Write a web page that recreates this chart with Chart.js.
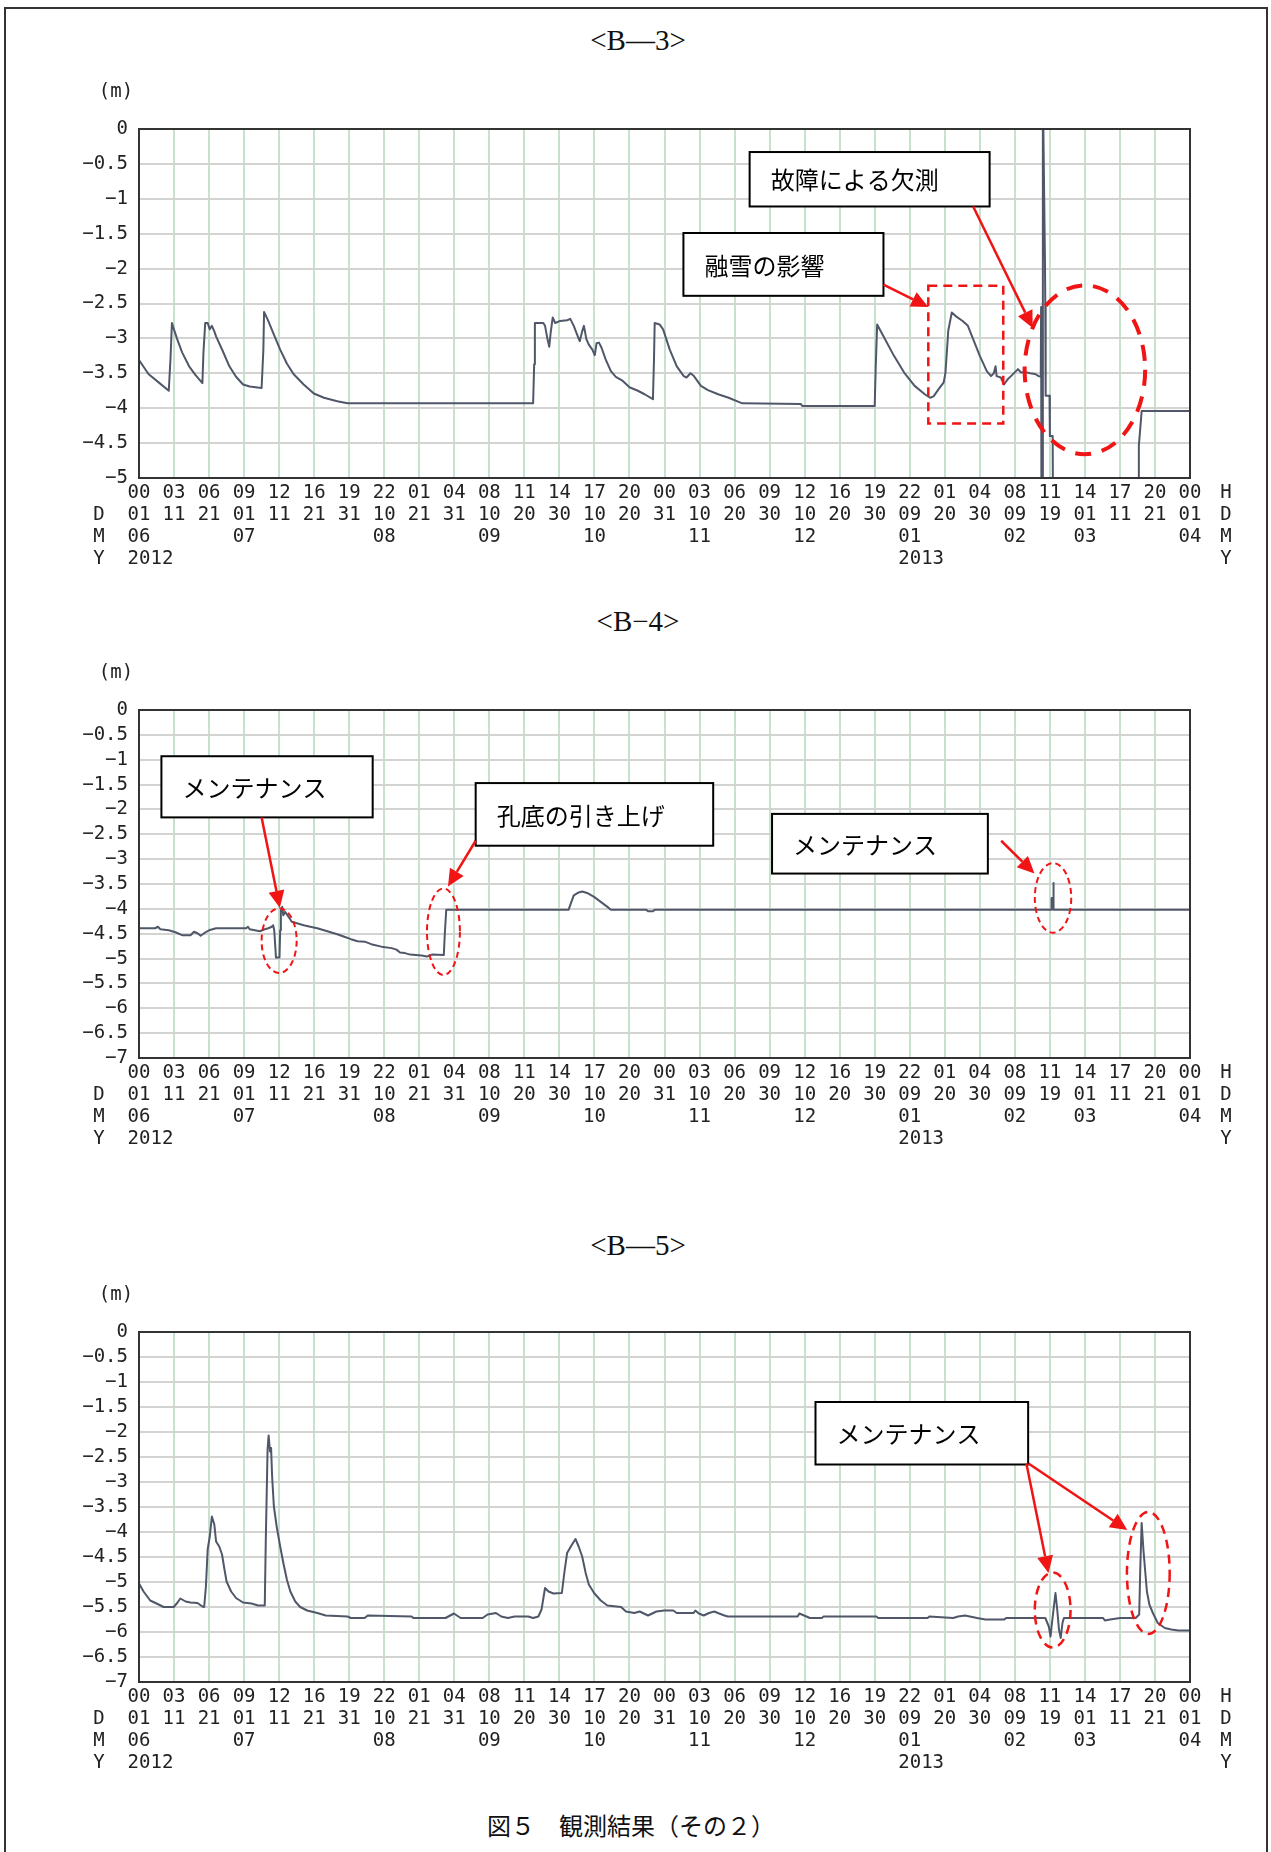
<!DOCTYPE html>
<html lang="ja">
<head>
<meta charset="utf-8">
<title>観測結果（その２）</title>
<script src="https://cdn.jsdelivr.net/npm/chart.js@4.4.0/dist/chart.umd.min.js"></script>
<style>
  body { margin: 0; background: #fff; }
  #page { position: relative; width: 1271px; height: 1852px; overflow: hidden; background: #fff; }
  #frame { position: absolute; left: 4px; top: 7px; width: 1260px; height: 1900px; border: 2px solid #333; }
  .title { position: absolute; left: 0; width: 1276px; text-align: center; line-height: 30px;
           font: 29px "Liberation Serif", "DejaVu Serif", serif; color: #111; }
  #caption { position: absolute; left: 0; width: 1262px; top: 1807px; text-align: center; line-height: 30px;
             font: 24px "Noto Sans CJK JP", sans-serif; color: #111; }
  canvas { position: absolute; left: 0; }
</style>
</head>
<body>
<div id="page">
  <div id="frame"></div>
  <div class="title" style="top:24px">&lt;B—3&gt;</div>
  <canvas id="chartB3" width="1271" height="520" style="top:60px"></canvas>
  <div class="title" style="top:605px">&lt;B−4&gt;</div>
  <canvas id="chartB4" width="1271" height="520" style="top:640px"></canvas>
  <div class="title" style="top:1229px">&lt;B—5&gt;</div>
  <canvas id="chartB5" width="1271" height="520" style="top:1262px"></canvas>
  <div id="caption">図５　観測結果（その２）</div>
</div>

<script>
// x axis tick labels (one tick per grid column, 2012/06/01 -> 2013/04/01)
const hourLabels = ['00','03','06','09','12','16','19','22','01','04','08','11','14','17','20',
                    '00','03','06','09','12','16','19','22','01','04','08','11','14','17','20','00'];
const dayLabels = ['01','11','21','01','11','21','31','10','21','31','10','20','30','10','20',
                   '31','10','20','30','10','20','30','09','20','30','09','19','01','11','21','01'];
const monthLabels = ['06','','','07','','','','08','','','09','','','10','','',
                     '11','','','12','','','01','','','02','','03','','','04'];
const yearLabels = ['2012','','','','','','','','','','','','','','','',
                    '','','','','','','2013','','','','','','','',''];
const rowNames = ['H', 'D', 'M', 'Y'];

// B-3 : time in grid columns, depth in m
const b3Time = [0,0.27,0.56,0.85,0.90,0.94,0.99,1.09,1.23,1.43,1.62,1.81,1.84,1.89,1.96,2.02,2.08,2.15,2.20,2.39,
  2.58,2.77,2.97,3.16,3.50,3.55,3.57,3.69,3.83,4.03,4.22,4.41,4.70,4.99,5.28,5.66,5.95,11.25,11.28,11.30,
  11.54,11.59,11.66,11.71,11.75,11.81,11.88,12.02,12.22,12.31,12.41,12.50,12.58,12.65,12.70,12.77,12.84,12.94,13.01,13.06,
  13.13,13.20,13.32,13.47,13.61,13.81,14.00,14.24,14.43,14.67,14.70,14.72,14.86,14.96,15.15,15.35,15.55,15.63,15.74,15.84,
  16.04,16.24,16.53,16.83,17.22,18.89,18.94,21.00,21.03,21.07,21.25,21.55,21.84,22.14,22.43,22.58,22.68,22.82,22.97,23.02,
  23.10,23.20,23.31,23.51,23.66,23.81,24.00,24.20,24.32,24.40,24.45,24.48,24.60,24.69,24.79,24.89,24.99,25.09,25.18,25.28,
  25.43,25.58,25.68,25.74,25.75,25.76,25.80,25.80,25.86,25.87,25.88,25.99,26.00,26.08,26.09,28.53,28.54,28.62,30];
const b3Depth = [-3.31,-3.51,-3.63,-3.75,-3.28,-2.78,-2.86,-3.01,-3.20,-3.40,-3.53,-3.64,-3.20,-2.78,-2.78,-2.87,-2.82,-2.90,-2.97,-3.18,
  -3.40,-3.55,-3.66,-3.69,-3.71,-3.16,-2.62,-2.75,-2.92,-3.16,-3.36,-3.51,-3.66,-3.79,-3.85,-3.90,-3.93,-3.93,-3.37,-2.78,
  -2.78,-2.82,-3.01,-3.12,-2.92,-2.70,-2.78,-2.75,-2.74,-2.72,-2.82,-2.94,-3.04,-2.90,-2.82,-3.01,-3.09,-3.16,-3.24,-3.07,
  -3.06,-3.13,-3.30,-3.47,-3.55,-3.61,-3.70,-3.75,-3.80,-3.87,-3.30,-2.78,-2.80,-2.87,-3.16,-3.40,-3.54,-3.56,-3.50,-3.54,
  -3.68,-3.74,-3.80,-3.85,-3.93,-3.94,-3.97,-3.97,-3.40,-2.80,-2.97,-3.25,-3.49,-3.68,-3.80,-3.85,-3.83,-3.73,-3.63,-3.49,
  -2.89,-2.63,-2.68,-2.75,-2.82,-3.01,-3.25,-3.47,-3.54,-3.50,-3.40,-3.54,-3.56,-3.66,-3.59,-3.54,-3.49,-3.44,-3.49,-3.48,
  -3.50,-3.51,-3.54,-3.55,-2.55,-5.6,-5.6,0.6,-1.9,-2.55,-3.82,-3.82,-4.40,-4.40,-5.6,-5.6,-4.54,-4.04,-4.04];

// B-4
const b4Time = [0,0.46,0.54,0.61,0.85,1.04,1.23,1.47,1.57,1.67,1.76,1.86,2.00,2.20,3.06,3.11,3.16,3.45,3.59,3.69,
  3.79,3.83,3.86,3.91,4.01,4.03,4.05,4.09,4.12,4.17,4.27,4.36,4.51,4.70,4.89,5.09,5.28,5.47,5.66,5.86,
  6.05,6.24,6.44,6.63,6.92,7.21,7.35,7.45,7.59,7.74,8.07,8.22,8.36,8.70,8.73,8.77,12.26,12.41,12.55,12.65,
  12.79,12.99,13.18,13.37,13.47,14.48,14.53,14.67,14.72,26.04,26.05,26.09,26.10,26.11,30];
const b4Depth = [-4.39,-4.39,-4.36,-4.41,-4.43,-4.47,-4.53,-4.53,-4.46,-4.49,-4.54,-4.49,-4.43,-4.39,-4.39,-4.36,-4.41,-4.45,-4.41,-4.39,
  -4.36,-4.33,-4.43,-4.98,-4.98,-4.43,-4.03,-3.96,-4.13,-4.06,-4.16,-4.26,-4.29,-4.33,-4.36,-4.39,-4.43,-4.47,-4.51,-4.56,
  -4.61,-4.65,-4.66,-4.71,-4.76,-4.79,-4.82,-4.88,-4.89,-4.92,-4.94,-4.96,-4.92,-4.93,-4.49,-4.02,-4.02,-3.73,-3.67,-3.65,
  -3.68,-3.76,-3.86,-3.96,-4.02,-4.02,-4.05,-4.05,-4.02,-4.02,-3.78,-3.78,-3.48,-4.02,-4.02];

// B-5
const b5Time = [0,0.13,0.32,0.56,0.70,0.99,1.09,1.18,1.33,1.47,1.67,1.81,1.86,1.91,1.96,2.02,2.08,2.15,2.20,2.29,
  2.37,2.44,2.50,2.63,2.77,2.97,3.21,3.40,3.59,3.62,3.67,3.70,3.74,3.77,3.80,3.85,3.93,4.03,4.12,4.22,
  4.32,4.46,4.60,4.80,5.09,5.33,5.95,6.05,6.44,6.53,7.78,7.83,8.75,8.99,9.18,9.81,9.95,10.19,10.34,10.53,
  10.72,11.11,11.25,11.40,11.49,11.59,11.69,11.83,12.07,12.14,12.22,12.36,12.46,12.55,12.65,12.75,12.84,12.99,13.18,13.37,
  13.76,13.90,14.14,14.29,14.38,14.53,14.77,14.99,15.25,15.35,15.83,15.88,15.98,16.12,16.27,16.42,16.56,16.71,16.81,18.80,
  18.85,19.15,19.49,19.54,21.05,21.10,22.51,22.56,23.24,23.38,23.58,23.92,24.16,24.70,24.75,25.87,25.97,26.02,26.06,26.11,
  26.16,26.21,26.26,26.31,26.36,26.40,27.52,27.57,27.72,28.01,28.45,28.55,28.58,28.62,28.67,28.71,28.77,28.84,28.94,29.08,
  29.28,29.47,29.67,30];
const b5Depth = [-5.03,-5.19,-5.37,-5.45,-5.50,-5.50,-5.42,-5.33,-5.39,-5.41,-5.42,-5.49,-5.50,-5.09,-4.35,-4.09,-3.69,-3.85,-4.19,-4.29,
  -4.45,-4.75,-4.99,-5.19,-5.32,-5.41,-5.43,-5.47,-5.47,-4.12,-2.35,-2.07,-2.39,-2.32,-2.89,-3.49,-3.89,-4.29,-4.62,-4.95,
  -5.19,-5.39,-5.50,-5.57,-5.62,-5.67,-5.69,-5.72,-5.72,-5.67,-5.69,-5.72,-5.72,-5.63,-5.72,-5.72,-5.65,-5.62,-5.69,-5.72,
  -5.69,-5.69,-5.72,-5.69,-5.55,-5.12,-5.19,-5.23,-5.22,-4.82,-4.42,-4.25,-4.14,-4.29,-4.49,-4.82,-5.05,-5.22,-5.37,-5.47,
  -5.50,-5.59,-5.62,-5.59,-5.62,-5.67,-5.59,-5.57,-5.57,-5.62,-5.62,-5.57,-5.63,-5.67,-5.62,-5.59,-5.63,-5.67,-5.69,-5.69,
  -5.63,-5.72,-5.72,-5.69,-5.69,-5.72,-5.72,-5.69,-5.72,-5.69,-5.67,-5.72,-5.75,-5.75,-5.72,-5.72,-5.89,-6.09,-5.82,-5.52,
  -5.22,-5.55,-5.95,-6.12,-5.82,-5.72,-5.72,-5.77,-5.75,-5.72,-5.72,-5.65,-4.75,-3.82,-4.35,-4.69,-5.19,-5.45,-5.62,-5.82,
  -5.92,-5.95,-5.97,-5.97];

// callouts, placed in data units (grid column, m)
const b3Notes = [
  { type: 'rect', x0: 22.53, x1: 24.67, y0: -2.245, y1: -4.22, dash: [9, 6], width: 2.5 },
  { type: 'ellipse', cx: 27.0, cy: -3.45, rx: 1.72, ry: 1.21, dash: [16, 11], width: 4 },
  { type: 'box', x0: 17.43, x1: 24.28, y0: -0.33, y1: -1.11, text: '故障による欠測' },
  { type: 'box', x0: 15.54, x1: 21.25, y0: -1.49, y1: -2.39, text: '融雪の影響' },
  { type: 'arrow', x0: 21.25, y0: -2.23, x1: 22.53, y1: -2.55 },
  { type: 'arrow', x0: 23.81, y0: -1.11, x1: 25.51, y1: -2.85 }
];
const b4Notes = [
  { type: 'box', x0: 0.64, x1: 6.67, y0: -0.93, y1: -2.16, text: 'メンテナンス' },
  { type: 'box', x0: 9.61, x1: 16.39, y0: -1.47, y1: -2.73, text: '孔底の引き上げ' },
  { type: 'box', x0: 18.07, x1: 24.23, y0: -2.09, y1: -3.29, text: 'メンテナンス' },
  { type: 'ellipse', cx: 4.0, cy: -4.64, rx: 0.5, ry: 0.65, dash: [6, 4], width: 2 },
  { type: 'ellipse', cx: 8.69, cy: -4.46, rx: 0.47, ry: 0.87, dash: [6, 4], width: 2 },
  { type: 'ellipse', cx: 26.09, cy: -3.78, rx: 0.52, ry: 0.70, dash: [6, 4], width: 2 },
  { type: 'arrow', x0: 3.50, y0: -2.16, x1: 4.02, y1: -3.98 },
  { type: 'arrow', x0: 9.61, y0: -2.63, x1: 8.82, y1: -3.55 },
  { type: 'arrow', x0: 24.61, y0: -2.63, x1: 25.56, y1: -3.29 }
];
const b5Notes = [
  { type: 'box', x0: 19.31, x1: 25.38, y0: -1.40, y1: -2.65, text: 'メンテナンス' },
  { type: 'ellipse', cx: 26.08, cy: -5.56, rx: 0.51, ry: 0.75, dash: [9, 6], width: 2.5 },
  { type: 'ellipse', cx: 28.81, cy: -4.82, rx: 0.61, ry: 1.22, dash: [9, 6], width: 2.5 },
  { type: 'arrow', x0: 25.33, y0: -2.63, x1: 25.96, y1: -4.82 },
  { type: 'arrow', x0: 25.39, y0: -2.63, x1: 28.21, y1: -3.96 }
];

const monoFont = { family: '"DejaVu Sans Mono", monospace', size: 19, lineHeight: 22 / 19 };
const red = '#f01414';

// plot frame, row names, unit and callouts
const notePlugin = {
  id: 'notes',
  afterDatasetsDraw(chart, args, opts) {
    const ctx = chart.ctx;
    const xs = chart.scales.x, ys = chart.scales.y;
    const px = v => xs.getPixelForValue(v);
    const py = v => ys.getPixelForValue(v);
    const area = chart.chartArea;

    ctx.save();
    ctx.strokeStyle = '#333';
    ctx.lineWidth = 2;
    ctx.strokeRect(area.left, area.top, area.right - area.left, area.bottom - area.top);

    (opts.items || []).forEach(n => {
      ctx.setLineDash(n.dash || []);
      ctx.lineWidth = n.width || 2.5;
      if (n.type === 'box') {
        const x0 = px(n.x0), x1 = px(n.x1), y0 = py(n.y0), y1 = py(n.y1);
        ctx.fillStyle = '#fff';
        ctx.fillRect(x0, y0, x1 - x0, y1 - y0);
        ctx.strokeStyle = '#000';
        ctx.lineWidth = 2;
        ctx.strokeRect(x0, y0, x1 - x0, y1 - y0);
        ctx.fillStyle = '#000';
        ctx.font = '24px "Noto Sans CJK JP", sans-serif';
        ctx.textAlign = 'left';
        ctx.textBaseline = 'middle';
        ctx.fillText(n.text, x0 + 21, (y0 + y1) / 2 + 1);
      } else if (n.type === 'rect') {
        ctx.strokeStyle = red;
        ctx.strokeRect(px(n.x0), py(n.y0), px(n.x1) - px(n.x0), py(n.y1) - py(n.y0));
      } else if (n.type === 'ellipse') {
        const cx = px(n.cx), cy = py(n.cy);
        ctx.strokeStyle = red;
        ctx.beginPath();
        ctx.ellipse(cx, cy, Math.abs(px(n.cx + n.rx) - cx), Math.abs(py(n.cy + n.ry) - cy), 0, 0, Math.PI * 2);
        ctx.stroke();
      } else if (n.type === 'arrow') {
        const x0 = px(n.x0), y0 = py(n.y0), x1 = px(n.x1), y1 = py(n.y1);
        const a = Math.atan2(y1 - y0, x1 - x0);
        const hl = 17, hw = 8;
        const bx = x1 - hl * Math.cos(a), by = y1 - hl * Math.sin(a);
        ctx.strokeStyle = red;
        ctx.fillStyle = red;
        ctx.beginPath();
        ctx.moveTo(x0, y0);
        ctx.lineTo(bx, by);
        ctx.stroke();
        ctx.beginPath();
        ctx.moveTo(x1, y1);
        ctx.lineTo(bx + hw * Math.sin(a), by - hw * Math.cos(a));
        ctx.lineTo(bx - hw * Math.sin(a), by + hw * Math.cos(a));
        ctx.closePath();
        ctx.fill();
      }
    });
    ctx.restore();
  },
  afterDraw(chart) {
    const ctx = chart.ctx;
    const xs = chart.scales.x;
    const area = chart.chartArea;
    const lh = 22;
    const top = xs.top + 4 + lh / 2;
    ctx.save();
    ctx.font = '19px "DejaVu Sans Mono", monospace';
    ctx.fillStyle = '#222';
    ctx.textAlign = 'center';
    ctx.textBaseline = 'middle';
    rowNames.forEach((r, i) => {
      ctx.fillText(r, area.right + 36, top + i * lh);
      if (i > 0) ctx.fillText(r, area.left - 40, top + i * lh);
    });
    ctx.fillText('(m)', area.left - 23, area.top - 37);
    ctx.restore();
  }
};

function makeChart(canvasId, times, depths, yMin, notes, padTop, axisHeight) {
  const points = times.map((t, i) => ({ x: t, y: depths[i] }));
  return new Chart(document.getElementById(canvasId), {
    type: 'line',
    data: {
      datasets: [{
        data: points,
        borderColor: '#4f5768',
        borderWidth: 2,
        borderJoinStyle: 'round',
        pointRadius: 0,
        tension: 0,
        fill: false
      }]
    },
    options: {
      responsive: false,
      animation: false,
      events: [],
      layout: { padding: { top: padTop, right: 81, bottom: 0, left: 0 } },
      plugins: {
        legend: { display: false },
        tooltip: { enabled: false },
        notes: { items: notes }
      },
      scales: {
        x: {
          type: 'linear',
          min: 0,
          max: 30,
          afterBuildTicks: s => { s.ticks = hourLabels.map((h, i) => ({ value: i })); },
          afterFit: s => { s.height = axisHeight; },
          grid: { color: 'rgba(120,185,135,0.42)', lineWidth: 2, drawTicks: false },
          border: { display: false },
          ticks: {
            autoSkip: false,
            maxRotation: 0,
            minRotation: 0,
            padding: 4,
            color: '#222',
            font: monoFont,
            callback: v => {
              const i = Math.round(v);
              return [hourLabels[i], dayLabels[i], monthLabels[i], yearLabels[i] ? '  ' + yearLabels[i] : ''];
            }
          }
        },
        y: {
          min: yMin,
          max: 0,
          afterFit: s => { s.width = 139; },
          grid: { color: '#d3d3d3', lineWidth: 2, drawTicks: false },
          border: { display: false },
          ticks: {
            stepSize: 0.5,
            autoSkip: false,
            maxTicksLimit: 100,
            padding: 11,
            color: '#222',
            font: monoFont,
            callback: v => v === 0 ? '0' : '\u2212' + Math.abs(v)
          }
        }
      }
    },
    plugins: [notePlugin]
  });
}

makeChart('chartB3', b3Time, b3Depth, -5, b3Notes, 69, 102);
makeChart('chartB4', b4Time, b4Depth, -7, b4Notes, 70, 102);
makeChart('chartB5', b5Time, b5Depth, -7, b5Notes, 70, 100);
</script>
</body>
</html>
